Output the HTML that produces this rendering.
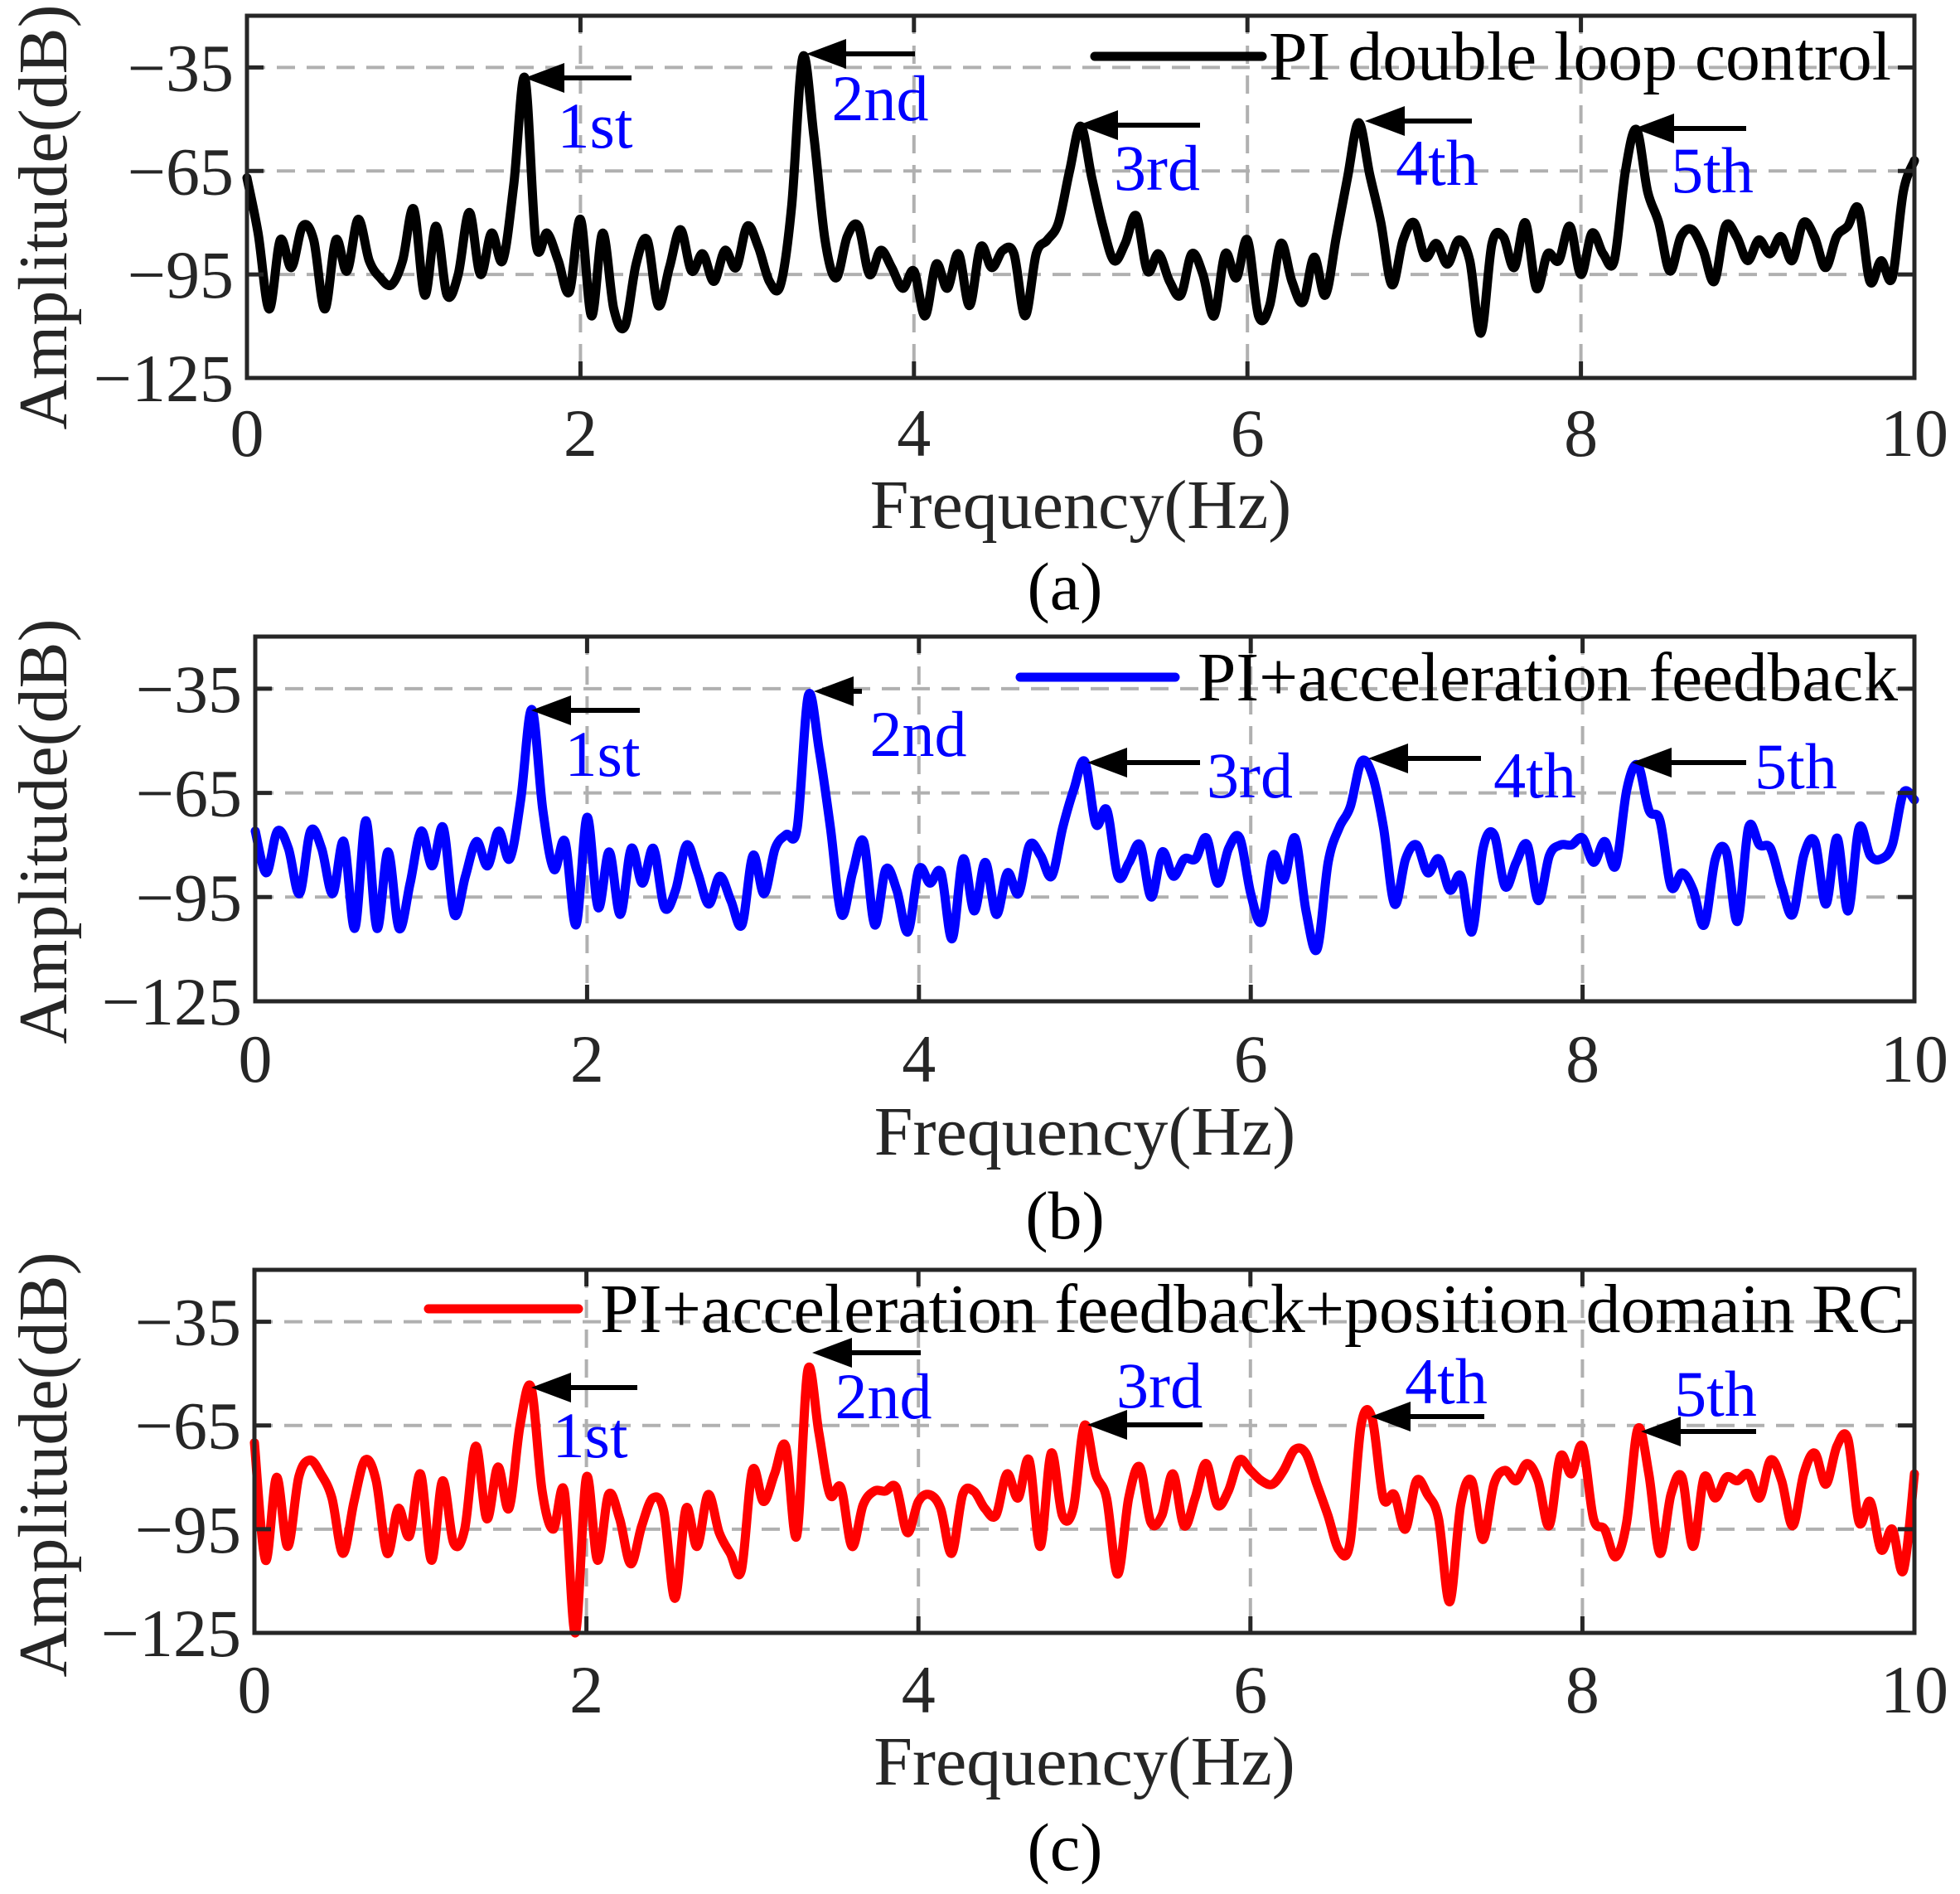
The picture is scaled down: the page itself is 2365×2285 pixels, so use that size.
<!DOCTYPE html>
<html><head><meta charset="utf-8">
<style>
html,body{margin:0;padding:0;background:#fff;}
svg{display:block;font-family:"Liberation Serif","Times New Roman",serif;}
</style></head>
<body>
<svg id="chart" width="2365" height="2285" viewBox="0 0 2365 2285" xmlns="http://www.w3.org/2000/svg"></svg>
<script>
// shared axis data
const xTicks = [0, 2, 4, 6, 8, 10];
const yTicks = [-125, -95, -65, -35];
const xGrid = [2, 4, 6, 8];
const yGrid = [-95, -65, -35];
const freqStep = 1 / 15; // Hz per sample
// series (dB), samples at i/15 Hz
const ampA = [-67,-83,-105,-85,-93,-81,-85,-105,-85,-94,-79,-91,-96,-98,-91,-76,-101,-81,-101,-95,-77,-95,-83,-91,-69,-38,-86,-83,-91,-100,-79,-107,-83,-105,-110,-92,-85,-104,-93,-82,-94,-89,-97,-88,-93,-81,-87,-97,-98,-75,-32,-55,-85,-96,-84,-81,-95,-88,-93,-99,-94,-107,-92,-99,-89,-104,-87,-93,-88,-89,-107,-89,-85,-80,-65,-52,-67,-81,-91,-86,-78,-94,-89,-97,-101,-89,-95,-107,-89,-96,-85,-107,-104,-86,-97,-103,-90,-101,-84,-67,-51,-66,-80,-98,-85,-80,-90,-86,-92,-85,-91,-112,-86,-84,-93,-80,-99,-89,-91,-81,-95,-83,-89,-91,-65,-53,-71,-80,-94,-84,-82,-88,-97,-81,-84,-91,-85,-89,-84,-91,-80,-84,-93,-84,-81,-76,-97,-91,-96,-71,-62];
const ampB = [-76,-88,-76,-81,-94,-76,-81,-94,-79,-104,-73,-104,-82,-104,-91,-76,-86,-75,-100,-89,-79,-86,-76,-84,-67,-41,-70,-87,-79,-103,-72,-98,-82,-100,-81,-91,-81,-98,-93,-80,-88,-97,-89,-96,-103,-83,-94,-81,-77,-75,-37,-53,-75,-100,-88,-79,-103,-87,-93,-105,-87,-91,-88,-107,-84,-99,-85,-100,-88,-94,-80,-83,-89,-75,-64,-56,-74,-70,-89,-85,-80,-95,-82,-89,-84,-84,-78,-91,-81,-78,-94,-102,-83,-90,-78,-99,-110,-85,-75,-69,-56,-60,-75,-97,-84,-80,-88,-84,-93,-89,-105,-81,-77,-92,-85,-80,-96,-83,-80,-80,-78,-85,-79,-86,-64,-57,-70,-73,-92,-88,-93,-103,-84,-82,-102,-75,-80,-81,-92,-100,-83,-79,-97,-78,-99,-75,-83,-84,-80,-65,-67];
const ampC = [-70,-104,-80,-100,-80,-75,-79,-86,-102,-87,-75,-81,-102,-89,-97,-79,-104,-81,-99,-95,-71,-92,-77,-89,-65,-54,-84,-95,-84,-125,-80,-104,-85,-92,-105,-94,-86,-90,-115,-89,-100,-85,-96,-102,-107,-78,-87,-79,-71,-97,-49,-67,-85,-83,-100,-88,-84,-84,-83,-96,-87,-85,-89,-102,-85,-84,-89,-91,-79,-86,-75,-100,-73,-91,-89,-65,-79,-86,-108,-86,-77,-93,-91,-79,-94,-86,-76,-88,-84,-75,-78,-81,-82,-78,-72,-73,-82,-91,-101,-99,-65,-63,-86,-85,-95,-81,-85,-92,-116,-88,-81,-98,-82,-78,-81,-76,-81,-94,-74,-79,-71,-92,-95,-103,-93,-66,-79,-102,-85,-80,-100,-80,-86,-80,-81,-79,-86,-75,-81,-94,-79,-73,-82,-71,-69,-93,-87,-101,-95,-107,-79];
const harmonicLabels = ["1st","2nd","3rd","4th","5th"];
const legendA = "PI double loop control";
const legendB = "PI+acceleration feedback";
const legendC = "PI+acceleration feedback+position domain RC";

const NS = "http://www.w3.org/2000/svg";
const svg = document.getElementById("chart");
function mk(tag, attrs, parent) {
  const e = document.createElementNS(NS, tag);
  for (const k in attrs) e.setAttribute(k, attrs[k]);
  (parent || svg).appendChild(e);
  return e;
}

const panels = [
  {id:"a", L:298, R:2310, T:19, B:456, data:ampA, color:"#000000", legend:legendA,
   legLine:[1321,1523,68], legText:[1531,2282], cap:"(a)", capY:735, xlabY:637, tickY:550, ylabY:262,
   ann:[[633,94,762,718,151],[973,65,1104,1062,118],[1301,151,1448,1396,202],[1647,146,1776,1734,196],[1972,155,2107,2066,205]]},
  {id:"b", L:308, R:2310, T:768, B:1208, data:ampB, color:"#0000ff", legend:legendB,
   legLine:[1231,1418,817], legText:[1445,2290], cap:"(b)", capY:1494, xlabY:1393, tickY:1305, ylabY:1003,
   ann:[[641,857,772,727,909],[982,834,1040,1108,885],[1312,920,1448,1508,935],[1651,915,1787,1852,935],[1969,920,2107,2167,924]]},
  {id:"c", L:307, R:2310, T:1532, B:1970, data:ampC, color:"#ff0000", legend:legendC,
   legLine:[517,698,1579], legText:[724,2298], cap:"(c)", capY:2256, xlabY:2153, tickY:2066, ylabY:1767,
   ann:[[641,1674,769,712,1731],[980,1632,1111,1066,1684],[1312,1719,1451,1399,1671],[1654,1709,1791,1745,1666],[1980,1727,2119,2070,1681]]}
];

panels.forEach(p => {
  const g = mk("g", {});
  
  
  const xs = v => p.L + (v - 0) / 10 * (p.R - p.L);
  const ys = v => p.B - (v - (-125)) / 105 * (p.B - p.T);

  yGrid.forEach(v => {
    const l = mk("line", {x1:p.L, x2:p.R, y1:ys(v), y2:ys(v), stroke:"#b0b0b0", "stroke-width":4, "stroke-dasharray":"22 14"}, g);
    
    
  });
  xGrid.forEach(v => {
    const l = mk("line", {x1:xs(v), x2:xs(v), y1:p.T, y2:p.B, stroke:"#b0b0b0", "stroke-width":4, "stroke-dasharray":"22 14"}, g);
    
    
  });

  // series (Catmull-Rom smoothed through data points)
  const pts = p.data.map((v, i) => [xs(i * freqStep), ys(v)]);
  let d = "M" + pts[0][0].toFixed(1) + " " + pts[0][1].toFixed(1);
  for (let i = 0; i < pts.length - 1; i++) {
    const p0 = pts[Math.max(0, i - 1)], p1 = pts[i], p2 = pts[i + 1], p3 = pts[Math.min(pts.length - 1, i + 2)];
    const c1x = p1[0] + (p2[0] - p0[0]) / 6, c1y = p1[1] + (p2[1] - p0[1]) / 6;
    const c2x = p2[0] - (p3[0] - p1[0]) / 6, c2y = p2[1] - (p3[1] - p1[1]) / 6;
    d += "C" + c1x.toFixed(1) + " " + c1y.toFixed(1) + " " + c2x.toFixed(1) + " " + c2y.toFixed(1) + " " + p2[0].toFixed(1) + " " + p2[1].toFixed(1);
  }
  const path = mk("path", {d:d, fill:"none", stroke:p.color, "stroke-width":11, "stroke-linejoin":"round", "stroke-linecap":"round"}, g);
  
  

  const box = mk("rect", {x:p.L, y:p.T, width:p.R - p.L, height:p.B - p.T, fill:"none", stroke:"#262626", "stroke-width":5}, g);
  
  

  xTicks.forEach(v => {
    const x = xs(v);
    mk("line", {x1:x, x2:x, y1:p.B, y2:p.B - 20, stroke:"#262626", "stroke-width":5}, g);
    mk("line", {x1:x, x2:x, y1:p.T, y2:p.T + 20, stroke:"#262626", "stroke-width":5}, g);
    const t = mk("text", {x:x, y:p.tickY, "font-size":82, "text-anchor":"middle", fill:"#262626"}, g);
    t.textContent = String(v);
    
    
  });
  yTicks.forEach(v => {
    const y = ys(v);
    mk("line", {x1:p.L, x2:p.L + 20, y1:y, y2:y, stroke:"#262626", "stroke-width":5}, g);
    mk("line", {x1:p.R, x2:p.R - 20, y1:y, y2:y, stroke:"#262626", "stroke-width":5}, g);
    const t = mk("text", {x:p.L - 16, y:y + 28, "font-size":82, "text-anchor":"end", fill:"#262626"}, g);
    t.textContent = "\u2212" + Math.abs(v);
    
    
  });

  const xl = mk("text", {x:(p.L + p.R) / 2, y:p.xlabY, "font-size":84, "text-anchor":"middle", fill:"#262626"}, g);
  xl.textContent = "Frequency(Hz)";
  
  
  const yl = mk("text", {x:0, y:0, "font-size":84, "text-anchor":"middle", fill:"#262626", transform:"translate(80," + p.ylabY + ") rotate(-90)"}, g);
  yl.textContent = "Amplitude(dB)";
  
  

  const cap = mk("text", {x:1285, y:p.capY, "font-size":82, "text-anchor":"middle", fill:"#000"}, g);
  cap.textContent = p.cap;
  
  

  const ll = mk("line", {x1:p.legLine[0], x2:p.legLine[1], y1:p.legLine[2], y2:p.legLine[2], stroke:p.color, "stroke-width":11, "stroke-linecap":"round"}, g);
  
  
  const lt = mk("text", {x:p.legText[0], y:p.legLine[2] + 28, "font-size":84, fill:"#000", textLength:p.legText[1] - p.legText[0], lengthAdjust:"spacingAndGlyphs"}, g);
  lt.textContent = p.legend;
  
  

  p.ann.forEach((a, k) => {
    const ag = mk("g", {}, g);
    
    
    mk("line", {x1:a[0] + 30, x2:a[2], y1:a[1], y2:a[1], stroke:"#000", "stroke-width":6}, ag);
    mk("polygon", {points:(a[0]) + "," + a[1] + " " + (a[0] + 48) + "," + (a[1] - 18) + " " + (a[0] + 48) + "," + (a[1] + 18), fill:"#000"}, ag);
    const t = mk("text", {x:a[3], y:a[4] + 27, "font-size":78, "text-anchor":"middle", fill:"#0000ff"}, ag);
    t.textContent = harmonicLabels[k];
    
    
  });
});
</script>
</body></html>
